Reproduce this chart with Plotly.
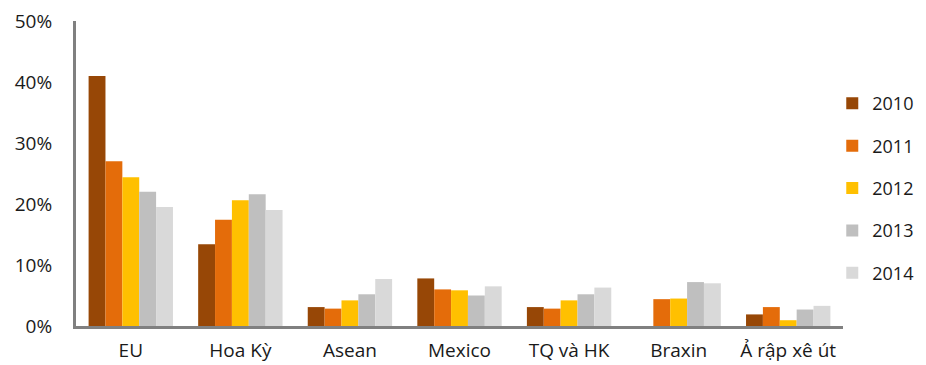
import plotly.graph_objects as go

categories = ["EU", "Hoa Kỳ", "Asean", "Mexico", "TQ và HK", "Braxin", "Ả rập xê út"]
years = ["2010", "2011", "2012", "2013", "2014"]
v2010 = [41.0, 13.4, 3.1, 7.8, 3.1, None, 1.9]
v2011 = [27.0, 17.4, 2.85, 6.0, 2.85, 4.4, 3.1]
v2012 = [24.4, 20.6, 4.2, 5.85, 4.2, 4.5, 0.95]
v2013 = [22.0, 21.6, 5.2, 5.0, 5.2, 7.2, 2.7]
v2014 = [19.5, 19.0, 7.7, 6.5, 6.3, 7.0, 3.3]
colors = ["#974706", "#E46C0A", "#FFC000", "#BFBFBF", "#D9D9D9"]
series = [v2010, v2011, v2012, v2013, v2014]
yticks = [0, 10, 20, 30, 40, 50]
yticklabels = ["0%", "10%", "20%", "30%", "40%", "50%"]

fig = go.Figure()
for name, vals, col in zip(years, series, colors):
    fig.add_trace(go.Bar(name=name, x=categories, y=vals, marker_color=col,
                         marker_line_width=0, legendgroup=name))

font_family = "Open Sans, Liberation Sans, sans-serif"
# page body has an 8px margin, so the figure is sized/placed to compensate
fig.update_layout(
    width=918, height=357,
    margin=dict(l=68, r=83, t=13, b=39, autoexpand=False),
    paper_bgcolor="white", plot_bgcolor="white",
    barmode="group", bargap=0.23, bargroupgap=0,
    font=dict(family=font_family, size=18, color="#1a1a1a"),
    showlegend=True,
    legend=dict(x=0.986, y=0.79, xanchor="left", yanchor="top",
                tracegroupgap=16, font=dict(size=18),
                bgcolor="rgba(0,0,0,0)"),
    xaxis=dict(showline=True, linecolor="#808080", linewidth=3,
               showgrid=False, ticks="", ticklabelstandoff=5,
               tickfont=dict(size=19), ticklabeloverflow="allow"),
    yaxis=dict(range=[0, 50], tickvals=yticks, ticktext=yticklabels,
               showline=True, linecolor="#808080", linewidth=3,
               showgrid=False, zeroline=False, ticks="",
               ticklabelstandoff=17, tickfont=dict(size=19),
               ticklabeloverflow="allow"),
)
fig.write_html("out.html")
